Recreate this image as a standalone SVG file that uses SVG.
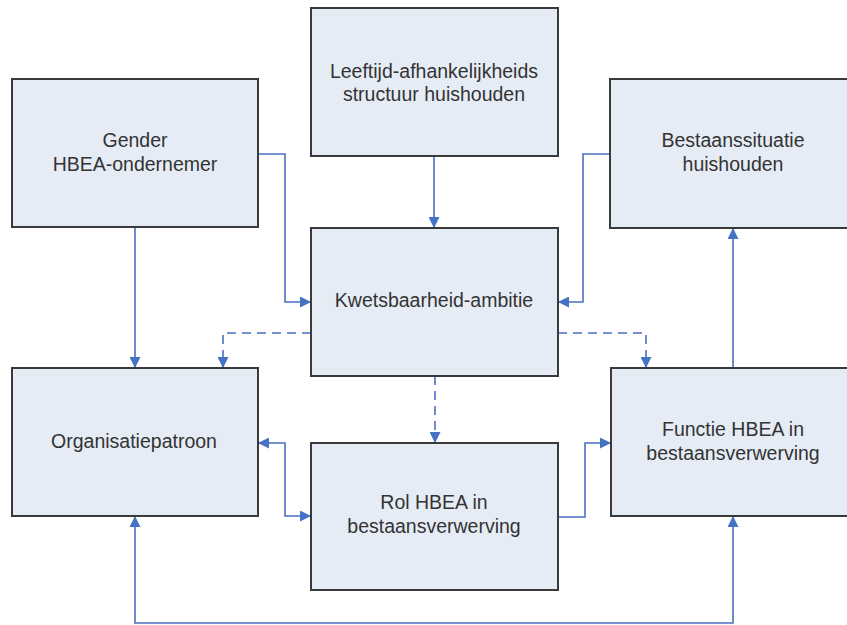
<svg xmlns="http://www.w3.org/2000/svg" width="847" height="625" viewBox="0 0 847 625">
<style>
.box{fill:#e6ecf6;stroke:#3a3a3a;stroke-width:2}
.t{font-family:"Liberation Sans",Arial,sans-serif;font-size:19.5px;fill:#333;text-anchor:middle}
.c{fill:none;stroke:#4a6fc2;stroke-width:1.6}
.d{stroke-dasharray:9 6}
</style>
<defs>
<marker id="a" viewBox="0 0 10 10" refX="10" refY="5" markerWidth="11" markerHeight="11" markerUnits="userSpaceOnUse" orient="auto-start-reverse">
<path d="M0,0 L10,5 L0,10 z" fill="#4472c4"/>
</marker>
</defs>
<rect width="847" height="625" fill="#fff"/>
<g id="connectors">
<path class="c" d="M258,154 H285 V302 H311" marker-end="url(#a)"/>
<path class="c" d="M434,156 V228" marker-end="url(#a)"/>
<path class="c" d="M610,154 H583 V302 H558" marker-end="url(#a)"/>
<path class="c" d="M135,227 V368" marker-end="url(#a)"/>
<path class="c d" d="M311,333 H223 V368" marker-end="url(#a)"/>
<path class="c d" d="M558,333 H646 V368" marker-end="url(#a)"/>
<path class="c d" d="M435,376 V443" marker-end="url(#a)"/>
<path class="c" d="M258,443 H285 V516 H311" marker-start="url(#a)" marker-end="url(#a)"/>
<path class="c" d="M558,517 H585 V443 H611" marker-end="url(#a)"/>
<path class="c" d="M733,368 V228" marker-end="url(#a)"/>
<path class="c" d="M135,516 V623 H733 V516" marker-start="url(#a)" marker-end="url(#a)"/>
</g>
<g id="gender">
<rect class="box" x="12" y="79" width="246" height="148"/>
<text class="t" x="135" y="147">Gender</text>
<text class="t" x="135" y="171">HBEA-ondernemer</text>
</g>
<g id="leeftijd">
<rect class="box" x="311" y="8" width="247" height="148"/>
<text class="t" x="434" y="78">Leeftijd-afhankelijkheids</text>
<text class="t" x="434" y="101">structuur huishouden</text>
</g>
<g id="bestaanssituatie">
<rect class="box" x="610" y="79" width="246" height="149"/>
<text class="t" x="733" y="147">Bestaanssituatie</text>
<text class="t" x="733" y="171">huishouden</text>
</g>
<g id="kwetsbaarheid">
<rect class="box" x="311" y="228" width="247" height="148"/>
<text class="t" x="434" y="307">Kwetsbaarheid-ambitie</text>
</g>
<g id="organisatiepatroon">
<rect class="box" x="12" y="368" width="246" height="148"/>
<text class="t" x="134" y="448">Organisatiepatroon</text>
</g>
<g id="rol">
<rect class="box" x="311" y="443" width="247" height="147"/>
<text class="t" x="434" y="509">Rol HBEA in</text>
<text class="t" x="434" y="533">bestaansverwerving</text>
</g>
<g id="functie">
<rect class="box" x="611" y="368" width="246" height="148"/>
<text class="t" x="733" y="436">Functie HBEA in</text>
<text class="t" x="733" y="460">bestaansverwerving</text>
</g>
</svg>
